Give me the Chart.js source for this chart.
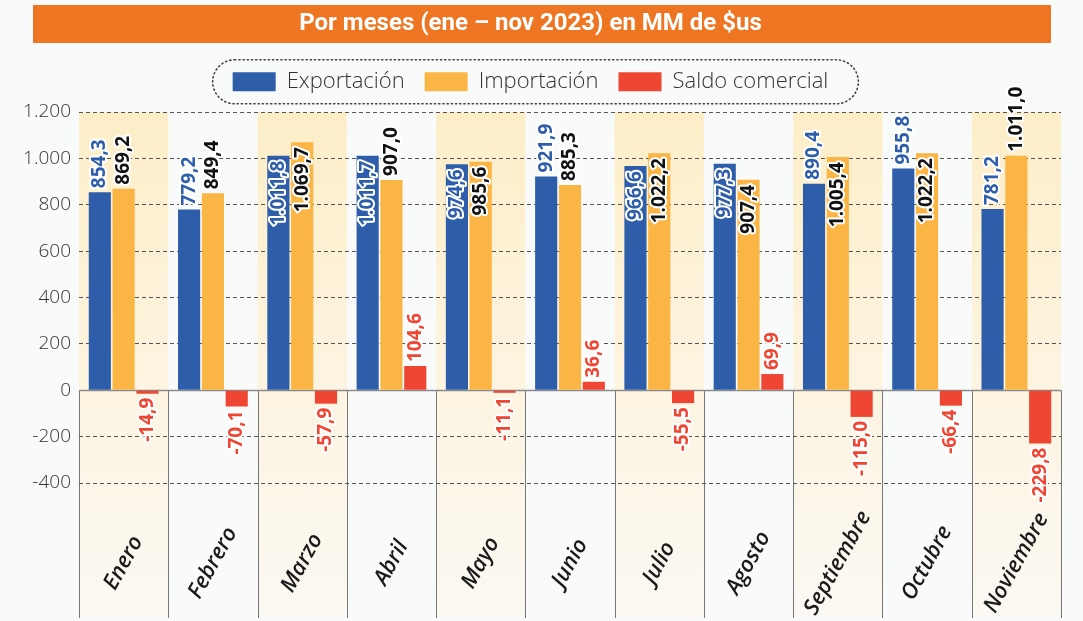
<!DOCTYPE html>
<html lang="es">
<head>
<meta charset="utf-8">
<title>Por meses (ene – nov 2023) en MM de $us</title>
<script src="https://cdn.jsdelivr.net/npm/chart.js@4/dist/chart.umd.min.js"></script>
<style>
    html, body { margin: 0; padding: 0; background: #f9fbfb; }
    #wrap { width: 1083px; height: 621px; position: relative; }
</style>
</head>
<body>
<div id="wrap"><canvas id="balanza"></canvas></div>

<script type="text/javascript">

    const meses = ["Enero", "Febrero", "Marzo", "Abril", "Mayo", "Junio", "Julio", "Agosto", "Septiembre", "Octubre", "Noviembre"];
    const exportacion = [854.3, 779.2, 1011.8, 1011.7, 974.6, 921.9, 966.6, 977.3, 890.4, 955.8, 781.2];
    const importacion = [869.2, 849.4, 1069.7, 907.0, 985.6, 885.3, 1022.2, 907.4, 1005.4, 1022.2, 1011.0];
    const saldo = [-14.9, -70.1, -57.9, 104.6, -11.1, 36.6, -55.5, 69.9, -115.0, -66.4, -229.8];
    const yTicks = [-400, -200, 0, 200, 400, 600, 800, 1000, 1200];

    // which value labels sit inside the bar top (dataset index -> month indices)
    const labelsInside = {0: [2, 3, 4, 6, 7], 1: [2, 4, 6, 7, 8, 9]};
    const labelColors = ["#2e5ea9", "#111111", "#ef4634"];

    const fmt = v => v.toLocaleString("de-DE", {minimumFractionDigits: 1, maximumFractionDigits: 1});

    const fondoPlugin = {
        id: "fondo",
        beforeDraw(chart) {
            const ctx = chart.ctx;
            const area = chart.chartArea;
            const y = chart.scales.y;
            const bottom = chart.height - 3;
            ctx.save();
            ctx.fillStyle = "#f9fbfb";
            ctx.fillRect(0, 0, chart.width, chart.height);

            // orange title bar
            const t = chart.titleBlock;
            ctx.fillStyle = "#ee7623";
            ctx.fillRect(33, t.top, 1018, 38);

            // column bands
            const colW = (area.right - area.left) / meses.length;
            const grad = ctx.createLinearGradient(0, area.top, 0, bottom);
            grad.addColorStop(0, "#fdeec8");
            grad.addColorStop(0.55, "#fdf4e1");
            grad.addColorStop(1, "#fbf9f3");
            ctx.fillStyle = grad;
            for (let i = 0; i < meses.length; i += 2) {
                ctx.fillRect(area.left + i * colW, area.top, colW, bottom - area.top);
            }

            // separators below zero
            const y0 = y.getPixelForValue(0);
            ctx.strokeStyle = "#777";
            ctx.lineWidth = 1;
            ctx.beginPath();
            for (let i = 0; i <= meses.length; i++) {
                const px = Math.round(area.left + i * colW) + 0.5;
                ctx.moveTo(px, y0);
                ctx.lineTo(px, bottom);
            }
            ctx.stroke();
            ctx.restore();
        },
        beforeDatasetsDraw(chart) {
            const ctx = chart.ctx;
            const area = chart.chartArea;
            const y0 = Math.round(chart.scales.y.getPixelForValue(0)) + 0.5;
            ctx.save();
            ctx.strokeStyle = "#8a8a8a";
            ctx.lineWidth = 1.5;
            ctx.beginPath();
            ctx.moveTo(area.left, y0);
            ctx.lineTo(area.right, y0);
            ctx.stroke();
            ctx.restore();
        },
        afterDatasetsDraw(chart) {
            const ctx = chart.ctx;
            ctx.save();
            ctx.font = "bold 19px 'Noto Sans', 'Open Sans', sans-serif";
            ctx.textBaseline = "middle";
            ctx.lineJoin = "round";
            ctx.lineWidth = 4;
            ctx.strokeStyle = "#ffffff";
            chart.data.datasets.forEach((ds, d) => {
                const meta = chart.getDatasetMeta(d);
                meta.data.forEach((bar, i) => {
                    const v = ds.data[i];
                    const text = fmt(v);
                    const inside = (labelsInside[d] || []).includes(i);
                    let yPos, align;
                    if (v < 0) { yPos = bar.y + 4; align = "right"; }
                    else if (inside) { yPos = bar.y + 5; align = "right"; }
                    else { yPos = bar.y - 4; align = "left"; }
                    ctx.save();
                    ctx.translate(bar.x, yPos);
                    ctx.rotate(-Math.PI / 2);
                    ctx.textAlign = align;
                    ctx.strokeText(text, 0, 0);
                    ctx.fillStyle = labelColors[d];
                    ctx.fillText(text, 0, 0);
                    ctx.restore();
                });
            });

            // month names
            const x = chart.scales.x;
            ctx.font = "italic 600 22px 'Open Sans', sans-serif";
            ctx.fillStyle = "#1a1a1a";
            ctx.textAlign = "center";
            meses.forEach((m, i) => {
                ctx.save();
                ctx.translate(x.getPixelForValue(i), 563);
                ctx.rotate(-61 * Math.PI / 180);
                ctx.fillText(m, 0, 0);
                ctx.restore();
            });
            ctx.restore();
        },
        afterDraw(chart) {
            // dotted rounded box round the legend
            const boxes = chart.legend.legendHitBoxes;
            if (!boxes || !boxes.length) return;
            const first = boxes[0], last = boxes[boxes.length - 1];
            const l = first.left - 20, r = last.left + last.width + 30;
            const tp = first.top - 11, bt = first.top + first.height + 11;
            const rad = (bt - tp) / 2;
            const ctx = chart.ctx;
            ctx.save();
            ctx.strokeStyle = "#444";
            ctx.lineWidth = 1.6;
            ctx.setLineDash([1.2, 3]);
            ctx.lineCap = "round";
            ctx.beginPath();
            ctx.roundRect(l, tp, r - l, bt - tp, rad);
            ctx.stroke();
            ctx.restore();
        }
    };

    new Chart("balanza", {
        type: "bar",
        data: {
            labels: meses,
            datasets: [
                {label: "Exportación", data: exportacion, backgroundColor: "#2e5ea9", borderWidth: 0},
                {label: "Importación", data: importacion, backgroundColor: "#fbb545", borderWidth: 0},
                {label: "Saldo comercial", data: saldo, backgroundColor: "#ef4634", borderWidth: 0}
            ]
        },
        options: {
            responsive: true,
            maintainAspectRatio: false,
            animation: false,
            datasets: {bar: {categoryPercentage: 0.8, barPercentage: 0.93}},
            layout: {padding: {top: 5, left: 0, right: 22, bottom: 130}},
            plugins: {
                title: {
                    display: true,
                    text: "Por meses (ene – nov 2023) en MM de $us",
                    color: "#ffffff",
                    font: {family: "'Liberation Sans Narrow', Roboto, sans-serif", weight: "bold", size: 24},
                    padding: {top: 5, bottom: 12}
                },
                subtitle: {
                    // empty spacer between legend and plot
                    display: true,
                    text: "",
                    weight: 500,
                    font: {size: 1},
                    padding: {top: 0, bottom: 8}
                },
                legend: {
                    display: true,
                    labels: {
                        boxWidth: 43,
                        boxHeight: 19,
                        padding: 20,
                        color: "#333",
                        font: {family: "'Open Sans', sans-serif", size: 22, weight: 300}
                    }
                },
                tooltip: {enabled: false}
            },
            scales: {
                x: {
                    ticks: {display: false},
                    grid: {display: false},
                    border: {display: false}
                },
                y: {
                    min: -400,
                    max: 1200,
                    afterBuildTicks: axis => { axis.ticks = yTicks.map(v => ({value: v})); },
                    afterFit: axis => { axis.width = 79; },
                    ticks: {
                        padding: 8,
                        color: "#333",
                        font: {family: "'Open Sans', sans-serif", size: 19, weight: 300},
                        callback: v => v.toLocaleString("de-DE")
                    },
                    grid: {
                        drawTicks: false,
                        color: ctx => ctx.tick && ctx.tick.value === 0 ? "rgba(0,0,0,0)" : "#555",
                        lineWidth: 1
                    },
                    border: {display: false, dash: [4, 3]}
                }
            }
        },
        plugins: [fondoPlugin]
    });

</script>
</body>
</html>
